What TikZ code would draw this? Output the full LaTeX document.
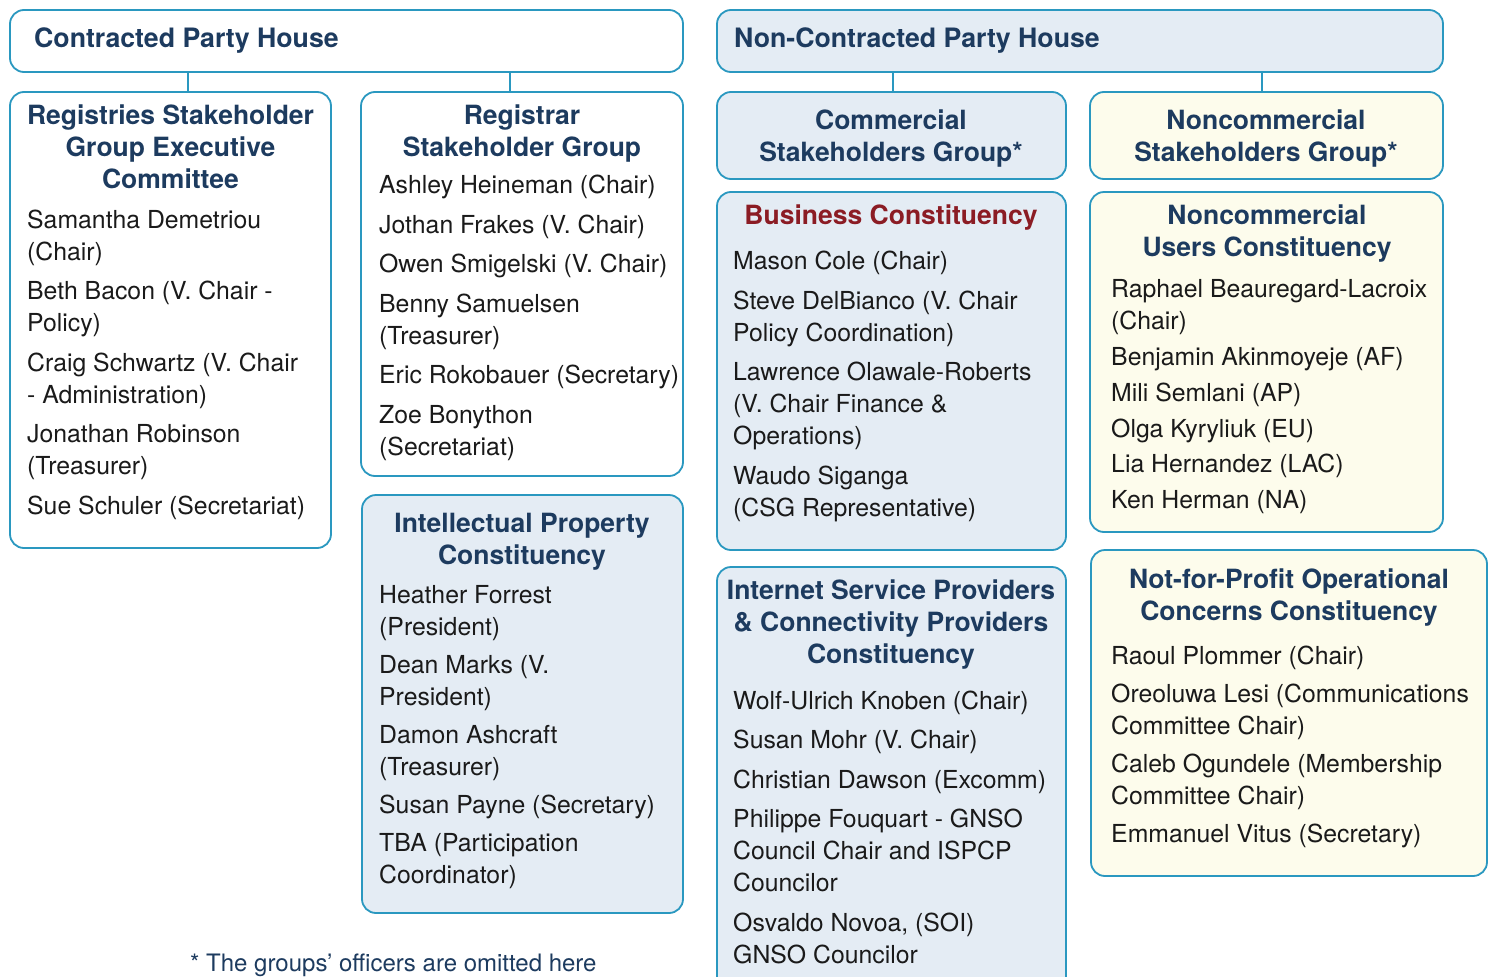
\documentclass[tikz,border=0pt]{standalone}
\usepackage{fontspec}
\setmainfont{TeX Gyre Heros}
\definecolor{bord}{HTML}{2A98C0}
\definecolor{navy}{HTML}{1D3B5F}
\definecolor{bcred}{HTML}{8B1C24}
\definecolor{lblue}{HTML}{E4ECF4}
\definecolor{cream}{HTML}{FDFCEC}
\definecolor{bodyc}{HTML}{1A1A1A}
\tikzset{
  boxbase/.style={draw=bord, line width=1.8pt, rounded corners=14pt, anchor=north west, inner sep=0pt, outer sep=0pt},
  boxw/.style={boxbase, fill=white},
  boxb/.style={boxbase, fill=lblue},
  boxy/.style={boxbase, fill=cream},
  conn/.style={draw=bord, line width=2.6pt},
  body/.style={font=\fontsize{24.8}{30}\selectfont, text=bodyc, inner sep=0pt, anchor=base west},
  ttl/.style={font=\bfseries\fontsize{26.5}{32}\selectfont, text=navy, inner sep=0pt, anchor=base},
  hdr/.style={font=\bfseries\fontsize{26.7}{32}\selectfont, text=navy, inner sep=0pt, anchor=base west},
}
\begin{document}
\begin{tikzpicture}[x=1pt,y=-1pt]
\clip (0,0) rectangle (1494,977);
\fill[white] (0,0) rectangle (1494,977);
% houses
\node[boxw, minimum width=673pt, minimum height=62pt] (cph) at (10,10) {};
\node[boxb, minimum width=726pt, minimum height=62pt] (ncph) at (717,10) {};
\node[hdr] (cpht) at (34,47.5) {Contracted Party House};
\node[hdr] (ncpht) at (734,47.5) {Non-Contracted Party House};
% boxes
\node[boxw, minimum width=321pt, minimum height=456pt] (rsg) at (10,92) {};
\node[boxw, minimum width=322pt, minimum height=384pt] (rrsg) at (361,92) {};
\node[boxb, minimum width=321pt, minimum height=418pt] (ipc) at (362,495) {};
\node[boxb, minimum width=349pt, minimum height=87pt] (csg) at (717,92) {};
\node[boxb, minimum width=349pt, minimum height=358pt] (bc) at (717,192) {};
\node[boxb, minimum width=349pt, minimum height=440pt] (isp) at (717,567) {};
\node[boxy, minimum width=353pt, minimum height=87pt] (ncsg) at (1090,92) {};
\node[boxy, minimum width=353pt, minimum height=340pt] (ncuc) at (1090,192) {};
\node[boxy, minimum width=396pt, minimum height=326pt] (npoc) at (1091,550) {};
% connectors
\coordinate (c1) at (188,92);
\coordinate (c2) at (510,92);
\coordinate (c3) at (893,92);
\coordinate (c4) at (1262,92);
\draw[conn] (cph.south -| c1) -- (c1);
\draw[conn] (cph.south -| c2) -- (c2);
\draw[conn] (ncph.south -| c3) -- (c3);
\draw[conn] (ncph.south -| c4) -- (c4);
% titles
\foreach \yy/\txt [count=\i] in {124/Registries Stakeholder, 156/Group Executive, 188/Committee}
  \node[ttl] (rsgh\i) at (170.5,\yy) {\txt};
\foreach \yy/\txt [count=\i] in {124/Registrar, 156/Stakeholder Group}
  \node[ttl] (rrsgh\i) at (522,\yy) {\txt};
\foreach \yy/\txt [count=\i] in {532/Intellectual Property, 564/Constituency}
  \node[ttl] (ipch\i) at (522,\yy) {\txt};
\foreach \yy/\txt [count=\i] in {129/Commercial, 161/Stakeholders Group*}
  \node[ttl] (csgh\i) at (891,\yy) {\txt};
\node[ttl, text=bcred] (bch1) at (891,224) {Business Constituency};
\foreach \yy/\txt [count=\i] in {599/Internet Service Providers, 631/\& Connectivity Providers, 663/Constituency}
  \node[ttl] (isph\i) at (891,\yy) {\txt};
\foreach \yy/\txt [count=\i] in {129/Noncommercial, 161/Stakeholders Group*}
  \node[ttl] (ncsgh\i) at (1266,\yy) {\txt};
\foreach \yy/\txt [count=\i] in {224/Noncommercial, 256/Users Constituency}
  \node[ttl] (ncuch\i) at (1267,\yy) {\txt};
\foreach \yy/\txt [count=\i] in {588/Not-for-Profit Operational, 620/Concerns Constituency}
  \node[ttl] (npoch\i) at (1289,\yy) {\txt};
% bodies
\foreach \yy/\txt [count=\i] in {228/Samantha Demetriou, 260/(Chair), 299/Beth Bacon (V. Chair -, 331/Policy), 371/Craig Schwartz (V. Chair, 403/- Administration), 442/Jonathan Robinson, 474/(Treasurer), 514/Sue Schuler (Secretariat)}
  \node[body] (rsgb\i) at (27,\yy) {\txt};
\foreach \yy/\txt [count=\i] in {193/Ashley Heineman (Chair), 233/Jothan Frakes (V. Chair), 272/Owen Smigelski (V. Chair), 312/Benny Samuelsen, 344/(Treasurer), 383/Eric Rokobauer (Secretary), 423/Zoe Bonython, 455/(Secretariat)}
  \node[body] (rrsgb\i) at (379,\yy) {\txt};
\foreach \yy/\txt [count=\i] in {603/Heather Forrest, 635/(President), 673/Dean Marks (V., 705/President), 743/Damon Ashcraft, 775/(Treasurer), 813/Susan Payne (Secretary), 851/TBA (Participation, 883/Coordinator)}
  \node[body] (ipcb\i) at (379,\yy) {\txt};
\foreach \yy/\txt [count=\i] in {269/Mason Cole (Chair), 309/Steve DelBianco (V. Chair, 341/Policy Coordination), 380/Lawrence Olawale-Roberts, 412/(V. Chair Finance \&, 444/Operations), 484/Waudo Siganga, 516/(CSG Representative)}
  \node[body] (bcb\i) at (733,\yy) {\txt};
\foreach \yy/\txt [count=\i] in {709/Wolf-Ulrich Knoben (Chair), 748/Susan Mohr (V. Chair), 788/Christian Dawson (Excomm), 827/Philippe Fouquart - GNSO, 859/Council Chair and ISPCP, 891/Councilor, 931/{Osvaldo Novoa, (SOI)}, 963/GNSO Councilor}
  \node[body] (ispb\i) at (733,\yy) {\txt};
\foreach \yy/\txt [count=\i] in {297/Raphael Beauregard-Lacroix, 329/(Chair), 365/Benjamin Akinmoyeje (AF), 401/Mili Semlani (AP), 437/Olga Kyryliuk (EU), 472/Lia Hernandez (LAC), 508/Ken Herman (NA)}
  \node[body] (ncucb\i) at (1111,\yy) {\txt};
\foreach \yy/\txt [count=\i] in {664/Raoul Plommer (Chair), 702/Oreoluwa Lesi (Communications, 734/Committee Chair), 772/Caleb Ogundele (Membership, 804/Committee Chair), 842/Emmanuel Vitus (Secretary)}
  \node[body] (npocb\i) at (1111,\yy) {\txt};
% footnote
\node[font=\fontsize{24}{28}\selectfont, text=navy, inner sep=0pt, anchor=base west] (foot) at (190,971) {* The groups’ officers are omitted here};
\end{tikzpicture}
\end{document}
